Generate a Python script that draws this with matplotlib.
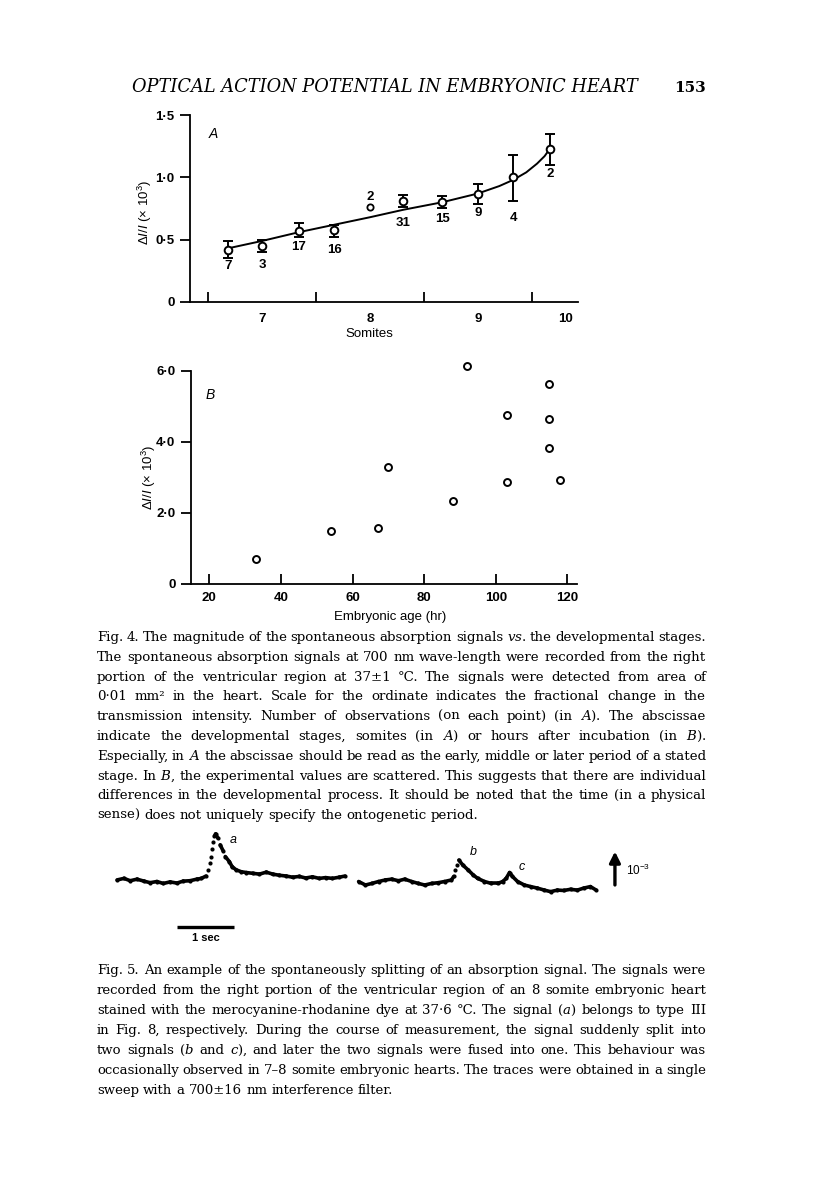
import numpy as np
import matplotlib
matplotlib.use("Agg")
import matplotlib.pyplot as plt
from matplotlib.collections import LineCollection

W, H = 816, 1185
SANS = "Liberation Sans"
SERIF = "DejaVu Serif"

# ---- Fig. 4A : amplitude vs somite stage
somites = [6.68, 7.0, 7.34, 7.67, 8.0, 8.31, 8.67, 9.0, 9.33, 9.67]
amp_a = [0.42, 0.45, 0.57, 0.58, 0.76, 0.81, 0.80, 0.87, 1.00, 1.23]
bar_hi = [0.49, 0.50, 0.63, 0.62, np.nan, 0.86, 0.85, 0.95, 1.18, 1.35]
bar_lo = [0.35, 0.40, 0.52, 0.52, np.nan, 0.76, 0.75, 0.79, 0.81, 1.10]
n_obs = ["7", "3", "17", "16", "2", "31", "15", "9", "4", "2"]
n_obs_y = [0.285, 0.30, 0.44, 0.42, 0.845, 0.635, 0.665, 0.71, 0.67, 1.03]
fit_x = [6.68, 7.0, 7.34, 7.67, 8.0, 8.31, 8.67, 9.0, 9.2, 9.33, 9.45, 9.55, 9.62, 9.67]
fit_y = [0.43, 0.49, 0.56, 0.62, 0.68, 0.74, 0.80, 0.87, 0.93, 0.98, 1.04, 1.11, 1.17, 1.23]
stage_ticks = [6.5, 7.5, 8.5, 9.5]
stage_label_pos = [7.0, 8.0, 9.0, 9.81]
stage_labels = ["7", "8", "9", "10"]
amp_a_ticks = [0, 0.5, 1.0, 1.5]
amp_a_labels = ["0", "0·5", "1·0", "1·5"]

# ---- Fig. 4B : amplitude vs embryonic age
ages = [33, 54, 67, 70, 88, 92, 103, 103, 115, 115, 115, 118]
amp_b = [0.70, 1.48, 1.58, 3.28, 2.34, 6.13, 4.74, 2.86, 5.63, 4.63, 3.83, 2.93]
age_ticks = [20, 40, 60, 80, 100, 120]
amp_b_ticks = [0, 2, 4, 6]
amp_b_labels = ["0", "2·0", "4·0", "6·0"]

# ---- Fig. 5 : optical traces (time in s, signal in units of 1e-3)
t1 = [0, 0.12, 0.23, 0.35, 0.47, 0.58, 0.70, 0.81, 0.93, 1.05, 1.16, 1.28, 1.40, 1.48, 1.56,
      1.60, 1.63, 1.65, 1.67, 1.69, 1.71, 1.73, 1.77, 1.81, 1.86, 1.90, 1.97, 2.02, 2.09,
      2.18, 2.27, 2.38, 2.50, 2.62, 2.73, 2.85, 2.97, 3.08, 3.20, 3.31, 3.43, 3.55, 3.66,
      3.78, 3.90, 4.00]
y1 = [0, 0.04, -0.02, 0.02, -0.03, -0.07, -0.04, -0.09, -0.05, -0.08, -0.03, -0.02, 0.02, 0.04, 0.10,
      0.26, 0.43, 0.60, 0.79, 0.98, 1.13, 1.18, 1.07, 0.90, 0.75, 0.60, 0.47, 0.34, 0.26,
      0.21, 0.19, 0.17, 0.15, 0.20, 0.15, 0.12, 0.10, 0.07, 0.09, 0.05, 0.08, 0.04, 0.06,
      0.04, 0.07, 0.10]
t2_start = 4.24
t2 = [0, 0.12, 0.23, 0.35, 0.47, 0.58, 0.70, 0.81, 0.93, 1.05, 1.16, 1.28, 1.40, 1.51, 1.63,
      1.67, 1.70, 1.72, 1.76, 1.83, 1.92, 2.01, 2.09, 2.21, 2.33, 2.44, 2.53, 2.59, 2.65,
      2.70, 2.79, 2.91, 3.02, 3.14, 3.26, 3.37, 3.49, 3.60, 3.72, 3.84, 3.95, 4.07, 4.17]
y2 = [-0.04, -0.13, -0.09, -0.04, 0.0, 0.02, -0.02, 0.02, -0.04, -0.09, -0.13, -0.09, -0.07, -0.04, 0.0,
      0.09, 0.26, 0.38, 0.51, 0.38, 0.26, 0.13, 0.04, -0.04, -0.09, -0.09, -0.04, 0.04, 0.19,
      0.09, -0.04, -0.13, -0.17, -0.21, -0.26, -0.30, -0.26, -0.27, -0.24, -0.26, -0.21, -0.17, -0.26]

header = "OPTICAL ACTION POTENTIAL IN EMBRYONIC HEART"
page_no = "153"

caption4 = [
    "Fig. 4. The magnitude of the spontaneous absorption signals $vs.$ the developmental stages.",
    "The spontaneous absorption signals at 700 nm wave-length were recorded from the right",
    "portion of the ventricular region at 37±1 °C. The signals were detected from area of",
    "0·01 mm² in the heart. Scale for the ordinate indicates the fractional change in the",
    "transmission intensity. Number of observations (on each point) (in $A$). The abscissae",
    "indicate the developmental stages, somites (in $A$) or hours after incubation (in $B$).",
    "Especially, in $A$ the abscissae should be read as the early, middle or later period of a stated",
    "stage. In $B$, the experimental values are scattered. This suggests that there are individual",
    "differences in the developmental process. It should be noted that the time (in a physical",
    "sense) does not uniquely specify the ontogenetic period.",
]
caption5 = [
    "Fig. 5. An example of the spontaneously splitting of an absorption signal. The signals were",
    "recorded from the right portion of the ventricular region of an 8 somite embryonic heart",
    "stained with the merocyanine-rhodanine dye at 37·6 °C. The signal ($a$) belongs to type III",
    "in Fig. 8, respectively. During the course of measurement, the signal suddenly split into",
    "two signals ($b$ and $c$), and later the two signals were fused into one. This behaviour was",
    "occasionally observed in 7–8 somite embryonic hearts. The traces were obtained in a single",
    "sweep with a 700±16 nm interference filter.",
]

plt.rcParams['mathtext.fontset'] = 'custom'
plt.rcParams['mathtext.rm'] = SANS
plt.rcParams['mathtext.it'] = SANS + ':italic'
plt.rcParams['mathtext.bf'] = SANS + ':bold'


def fy(py):
    return 1 - py / H


def fx(px):
    return px / W


def style_axes(ax):
    for s in ['top', 'right']:
        ax.spines[s].set_visible(False)
    for s in ['left', 'bottom']:
        ax.spines[s].set_linewidth(1.3)
    ax.tick_params(axis='y', which='major', direction='out', length=7, width=1.3,
                   labelsize=9.5, pad=4)
    ax.tick_params(axis='x', which='major', direction='in', length=7, width=1.3,
                   labelsize=9.5, pad=6)
    for lab in ax.get_xticklabels() + ax.get_yticklabels():
        lab.set_family(SANS)
        lab.set_weight('bold')


def measure(fig, s, **kw):
    r = fig.canvas.get_renderer()
    t = fig.text(0, 0, s, **kw)
    w = t.get_window_extent(r).width
    t.remove()
    return w


def paragraph(fig, lines, x0, x1, y0, step):
    # justified block of text, one fig.text per word
    kw = dict(family=SERIF, math_fontfamily='dejavuserif', va='baseline')
    base = 10.0
    space = measure(fig, "x x", fontsize=base, **kw) - measure(fig, "xx", fontsize=base, **kw)
    natural = []
    for line in lines[:-1]:
        words = line.split(' ')
        natural.append(sum(measure(fig, w, fontsize=base, **kw) for w in words)
                       + 0.8 * space * (len(words) - 1))
    size = base * (x1 - x0) / max(natural)
    r = fig.canvas.get_renderer()
    for i, line in enumerate(lines):
        words = line.split(' ')
        texts = [fig.text(0, fy(y0 + i * step), w, fontsize=size, **kw) for w in words]
        widths = [t.get_window_extent(r).width for t in texts]
        if i == len(lines) - 1:
            gap = space * size / base
        else:
            gap = (x1 - x0 - sum(widths)) / (len(words) - 1)
        x = x0
        for t, w in zip(texts, widths):
            t.set_x(fx(x))
            x += w + gap


def draw_trace(ax, t, y):
    t = np.asarray(t)
    y = np.asarray(y)
    slope = np.abs(np.diff(y) / np.diff(t))
    segs = [[(t[i], y[i]), (t[i + 1], y[i + 1])] for i in range(len(t) - 1) if slope[i] < 3.0]
    ax.add_collection(LineCollection(segs, colors='k', linewidths=2.6, capstyle='round'))
    ax.plot(t, y, 'o', color='k', ms=3.0, mew=0)


fig = plt.figure(figsize=(W / 100, H / 100), dpi=100)
fig.patch.set_facecolor('white')

# header
hsize = 10 * 505 / measure(fig, header, fontsize=10, family=SERIF, style='italic')
fig.text(fx(385), fy(92), header, fontsize=hsize, family=SERIF, style='italic',
         ha='center', va='baseline')
fig.text(fx(690), fy(92), page_no, fontsize=11, family=SERIF, weight='bold',
         ha='center', va='baseline')

# ---- panel A
axA = fig.add_axes([fx(190), fy(302), fx(578) - fx(190), fy(115) - fy(302)])
axA.plot(fit_x, fit_y, color='k', lw=1.4, zorder=2)
amp = np.array(amp_a)
hi = np.array(bar_hi)
lo = np.array(bar_lo)
has_bar = ~np.isnan(hi)
sx = np.array(somites)
axA.errorbar(sx[has_bar], amp[has_bar], yerr=[amp[has_bar] - lo[has_bar], hi[has_bar] - amp[has_bar]],
             fmt='o', color='k', mfc='white', mec='k', ms=5.5, mew=1.4, elinewidth=1.4,
             capsize=3.5, capthick=1.4, zorder=3)
axA.plot(sx[~has_bar], amp[~has_bar], 'o', mfc='white', mec='k', ms=4.5, mew=1.3, zorder=3)
for x, y, s in zip(somites, n_obs_y, n_obs):
    axA.text(x, y, s, family=SANS, weight='bold', fontsize=9.5, ha='center', va='center')
axA.set_xlim(6.33, 9.93)
axA.set_ylim(0, 1.5)
axA.set_xticks(stage_ticks)
axA.set_xticklabels([])
axA.set_xticks(stage_label_pos, minor=True)
axA.set_xticklabels(stage_labels, minor=True)
axA.set_yticks(amp_a_ticks)
axA.set_yticklabels(amp_a_labels)
style_axes(axA)
axA.tick_params(axis='x', which='minor', length=0, labelsize=9.5, pad=8)
for lab in axA.get_xticklabels(minor=True):
    lab.set_family(SANS)
    lab.set_weight('bold')
axA.text(0.06, 0.9, "A", transform=axA.transAxes, family=SANS, style='italic',
         fontsize=10, ha='center', va='center')
axA.text(-0.115, 0.48, r"$\Delta I/I$ (× 10$^3$)", transform=axA.transAxes, rotation=90,
         family=SANS, fontsize=9.5, ha='center', va='center')
axA.text(0.461, -0.171, "Somites", transform=axA.transAxes, family=SANS, fontsize=9.5,
         ha='center', va='center')

# ---- panel B
axB = fig.add_axes([fx(190.7), fy(584), fx(576.7) - fx(190.7), fy(370.5) - fy(584)])
axB.plot(ages, amp_b, 'o', mfc='white', mec='k', ms=5.0, mew=1.4, clip_on=False)
axB.set_xlim(14.8, 122.6)
axB.set_ylim(0, 6.0)
axB.set_xticks(age_ticks)
axB.set_yticks(amp_b_ticks)
axB.set_yticklabels(amp_b_labels)
style_axes(axB)
axB.text(0.05, 0.885, "B", transform=axB.transAxes, family=SANS, style='italic',
         fontsize=10, ha='center', va='center')
axB.text(-0.108, 0.50, r"$\Delta I/I$ (× 10$^3$)", transform=axB.transAxes, rotation=90,
         family=SANS, fontsize=9.5, ha='center', va='center')
axB.text(0.516, -0.155, "Embryonic age (hr)", transform=axB.transAxes, family=SANS,
         fontsize=9.5, ha='center', va='center')

# ---- captions
paragraph(fig, caption4, 97, 706, 641, 19.8)
paragraph(fig, caption5, 97, 706, 974, 20.0)

# ---- Fig. 5 traces
ax5 = fig.add_axes([fx(100), fy(950), fx(640) - fx(100), fy(830) - fy(950)])
ax5.set_xlim(-0.30, 9.18)
ax5.set_ylim(-1.795, 1.28)
ax5.axis('off')
draw_trace(ax5, t1, y1)
draw_trace(ax5, np.array(t2) + t2_start, y2)
ax5.text(2.04, 1.03, "a", family=SANS, style='italic', fontsize=9, ha='center', va='center')
ax5.text(6.26, 0.72, "b", family=SANS, style='italic', fontsize=9, ha='center', va='center')
ax5.text(7.10, 0.33, "c", family=SANS, style='italic', fontsize=9, ha='center', va='center')
ax5.annotate("", xy=(8.74, 0.8), xytext=(8.74, -0.2),
             arrowprops=dict(arrowstyle='-|>', lw=2.4, color='k', mutation_scale=16))
ax5.text(8.93, 0.25, r"10$^{-3}$", family=SANS, fontsize=8.5, ha='left', va='center')
ax5.plot([1.05, 2.05], [-1.2, -1.2], color='k', lw=2.4, solid_capstyle='butt')
ax5.text(1.55, -1.5, "1 sec", family=SANS, weight='bold', fontsize=8, ha='center', va='center')

fig.savefig("out.png", dpi=100, facecolor='white')
